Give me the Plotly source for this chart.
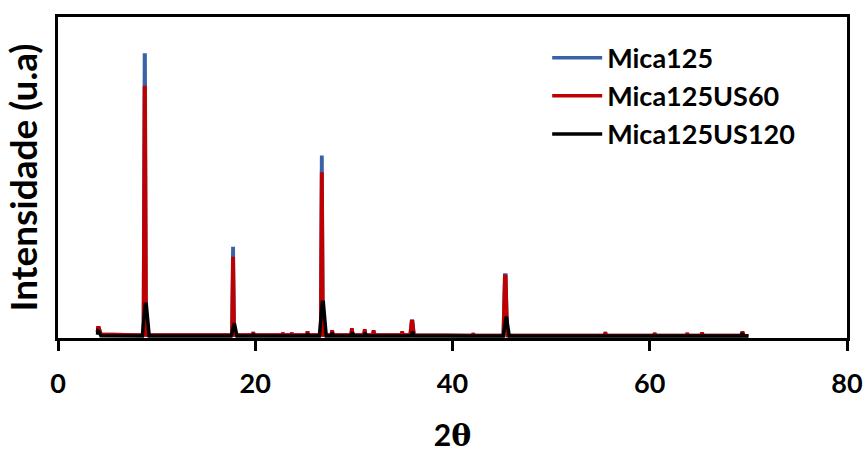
import plotly.graph_objects as go

# Mica125 (blue)
mica125_x = [4.00, 4.05, 4.15, 4.35, 8.0, 8.66, 8.77, 8.83, 8.94, 17.63, 17.73, 17.77, 17.87,
             19.7, 19.8, 19.9, 22.7, 22.8, 22.9, 23.6, 23.7, 23.8, 25.2, 25.3, 25.4,
             26.63, 26.73, 26.77, 26.87, 27.7, 27.8, 27.9, 29.7, 29.8, 29.9, 31.0, 31.1, 31.2,
             31.9, 32.0, 32.1, 34.8, 34.9, 35.0, 35.7, 35.85, 35.95, 36.1, 42.0, 42.1, 42.2,
             45.15, 45.3, 45.4, 45.55, 55.4, 55.5, 55.6, 60.4, 60.5, 60.6, 63.7, 63.8, 63.9,
             65.2, 65.3, 65.4, 69.25, 69.4, 69.55, 70.0]
mica125_y = [18, 32, 32, 12, 9, 9, 882, 882, 9, 9, 279, 279, 9,
             9, 18, 9, 9, 16, 9, 9, 16, 9, 9, 20, 9,
             9, 563, 563, 9, 9, 24, 9, 9, 30, 9, 9, 27, 9,
             9, 24, 9, 9, 20, 9, 9, 53, 53, 9, 8, 14, 8,
             8, 196, 196, 8, 8, 18, 8, 8, 15, 8, 8, 15, 8,
             8, 17, 8, 8, 20, 8, 7]

# Mica125US60 (red)
mica125us60_x = list(mica125_x)
mica125us60_y = [18, 32, 32, 12, 9, 9, 780, 780, 9, 9, 248, 248, 9,
                 9, 18, 9, 9, 16, 9, 9, 16, 9, 9, 20, 9,
                 9, 511, 511, 9, 9, 24, 9, 9, 30, 9, 9, 27, 9,
                 9, 24, 9, 9, 20, 9, 9, 51, 51, 9, 8, 14, 8,
                 8, 192, 192, 8, 8, 18, 8, 8, 15, 8, 8, 15, 8,
                 8, 17, 8, 8, 20, 8, 7]

# Mica125US120 (black)
mica125us120_x = [4.0, 4.05, 4.15, 4.35, 8.55, 8.85, 8.95, 9.25, 17.55, 17.82, 17.88, 18.15,
                  19.7, 19.8, 19.9, 25.2, 25.3, 25.4, 26.5, 26.8, 26.9, 27.2, 27.7, 27.8, 27.9,
                  29.75, 29.85, 29.95, 31.05, 31.15, 31.25, 35.8, 35.95, 36.1,
                  45.15, 45.42, 45.48, 45.75, 69.3, 69.4, 69.5, 70.0]
mica125us120_y = [10, 22, 20, 7, 6, 105, 105, 6, 6, 46, 46, 6,
                  6, 12, 6, 6, 14, 6, 6, 111, 111, 6, 6, 16, 6,
                  6, 18, 6, 6, 16, 6, 6, 20, 6,
                  6, 62, 62, 6, 6, 15, 6, 6]

x_ticks = [0, 20, 40, 60, 80]

FONT = "Lato"

fig = go.Figure()
fig.add_trace(go.Scatter(x=mica125_x, y=mica125_y, mode="lines", name="Mica125",
                         line=dict(color="#3B62A6", width=3.5)))
fig.add_trace(go.Scatter(x=mica125us60_x, y=mica125us60_y, mode="lines", name="Mica125US60",
                         line=dict(color="#C00000", width=3.5)))
fig.add_trace(go.Scatter(x=mica125us120_x, y=mica125us120_y, mode="lines", name="Mica125US120",
                         line=dict(color="#000000", width=3.5)))

fig.update_layout(
    width=863, height=453,
    margin=dict(l=58, r=16, t=17, b=115),
    paper_bgcolor="white", plot_bgcolor="white",
    font=dict(family=FONT, color="black", weight="bold"),
    legend=dict(x=0.62, y=0.948, xanchor="left", yanchor="top",
                bgcolor="rgba(0,0,0,0)", font=dict(size=27, family=FONT, weight="bold"),
                tracegroupgap=0, itemwidth=50),
    showlegend=True,
)
fig.update_xaxes(
    range=[0, 80], tickvals=x_ticks, ticktext=[str(v) for v in x_ticks],
    showgrid=False, zeroline=False, automargin=False, ticklabeloverflow="allow",
    showline=True, linecolor="black", linewidth=2.5, mirror=True,
    ticks="outside", ticklen=10, tickwidth=2.5, tickcolor="black",
    ticklabelstandoff=10,
    tickfont=dict(size=27, family=FONT, weight="bold"),
    title=dict(text="2<span style='font-family:DejaVu Serif'>θ</span>",
               font=dict(size=30, family=FONT, weight="bold"), standoff=37),
)
fig.update_yaxes(
    range=[0, 1000], showticklabels=False, ticks="", automargin=False,
    showgrid=False, zeroline=False,
    showline=True, linecolor="black", linewidth=2.5, mirror=True,
    title=dict(text="Intensidade (u.a)", font=dict(size=37, family=FONT, weight="bold"),
               standoff=14),
)

fig.write_html("out.html", config={"displayModeBar": False},
               post_script="document.body.style.margin='0';")
